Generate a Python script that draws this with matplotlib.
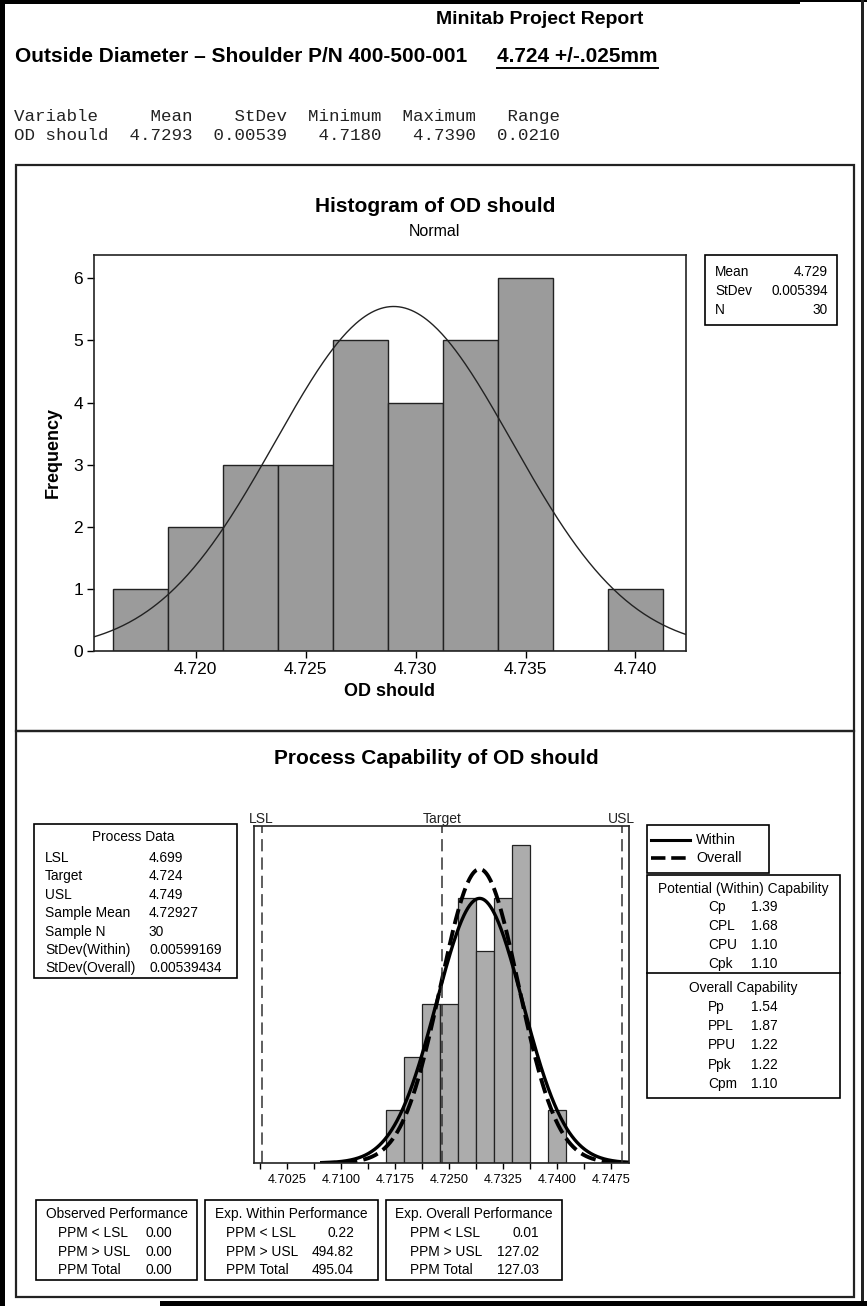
import numpy as np
import matplotlib
matplotlib.use("Agg")
import matplotlib.pyplot as plt
from matplotlib.patches import Rectangle
from matplotlib.lines import Line2D

# ---------------- data ----------------
bin_centers = [4.7175, 4.7200, 4.7225, 4.7250, 4.7275, 4.7300, 4.7325, 4.7350, 4.7375, 4.7400]
bin_counts = [1, 2, 3, 3, 5, 4, 5, 6, 0, 1]
bin_width = 0.0025

hist_mean = 4.729
hist_stdev = 0.005394
hist_n = 30

stat_names = ["Mean", "StDev", "Minimum", "Maximum", "Range"]
stat_values = ["4.7293", "0.00539", "4.7180", "4.7390", "0.0210"]

lsl, target, usl = 4.699, 4.724, 4.749
sample_mean = 4.72927
sample_n = 30
sd_within = 0.00599169
sd_overall = 0.00539434

hist_xticks = [4.720, 4.725, 4.730, 4.735, 4.740]
hist_yticks = [0, 1, 2, 3, 4, 5, 6]
cap_xticks = [4.7025, 4.7100, 4.7175, 4.7250, 4.7325, 4.7400, 4.7475]

process_labels = ["LSL", "Target", "USL", "Sample Mean", "Sample N", "StDev(Within)", "StDev(Overall)"]
process_values = ["4.699", "4.724", "4.749", "4.72927", "30", "0.00599169", "0.00539434"]

within_labels = ["Cp", "CPL", "CPU", "Cpk"]
within_values = ["1.39", "1.68", "1.10", "1.10"]
overall_labels = ["Pp", "PPL", "PPU", "Ppk", "Cpm"]
overall_values = ["1.54", "1.87", "1.22", "1.22", "1.10"]

ppm_labels = ["PPM < LSL", "PPM > USL", "PPM Total"]
ppm_observed = ["0.00", "0.00", "0.00"]
ppm_exp_within = ["0.22", "494.82", "495.04"]
ppm_exp_overall = ["0.01", "127.02", "127.03"]

# ---------------- figure ----------------
plt.rcParams['font.family'] = ['Liberation Sans', 'DejaVu Sans']
W, H = 867, 1306
fig = plt.figure(figsize=(W / 100, H / 100), dpi=100)
fig.patch.set_facecolor('white')

BOX_FS = 9.9


def fx(px):
    return px / W


def fy(py):
    return 1 - py / H


def ftext(x, y, s, **kw):
    kw.setdefault('va', 'center')
    return fig.text(fx(x), fy(y), s, **kw)


def frect(x0, y0, x1, y1, lw=1.0, color='black', fill=False, fc='none'):
    r = Rectangle((fx(x0), fy(y1)), (x1 - x0) / W, (y1 - y0) / H, transform=fig.transFigure,
                  fill=fill, facecolor=fc, edgecolor=color, linewidth=lw)
    fig.add_artist(r)


def fline(x0, y0, x1, y1, **kw):
    fig.add_artist(Line2D([fx(x0), fx(x1)], [fy(y0), fy(y1)], transform=fig.transFigure, **kw))


# page frame
frect(0, 0, 5, H, lw=0, fill=True, fc='black')
frect(0, 0, 800, 4, lw=0, fill=True, fc='black')
frect(0, 0, W, 2, lw=0, fill=True, fc='black')
frect(861, 0, 864, H, lw=0, fill=True, fc='#222222')
frect(160, 1301, W, H, lw=0, fill=True, fc='black')

# panels
frect(16, 165, 854, 731, lw=1.6, color='#222222')
frect(16, 731, 854, 1297, lw=1.6, color='#222222')

# header texts
ftext(540, 20, "Minitab Project Report", ha='center', fontsize=14, fontweight='bold')
ftext(15, 56, "Outside Diameter \u2013 Shoulder P/N 400-500-001", ha='left', fontsize=15, fontweight='bold')
t_spec = ftext(497, 56, "4.724 +/-.025mm", ha='left', fontsize=15, fontweight='bold')

hdr = "Variable" + "".join(n.rjust(w) for n, w in zip(stat_names, [9, 9, 9, 9, 8]))
row = "OD should" + "".join(v.rjust(w) for v, w in zip(stat_values, [8, 9, 9, 9, 8]))
ftext(14, 116, hdr, ha='left', family=['Liberation Mono', 'DejaVu Sans Mono'], fontsize=12.6, color='#222222')
ftext(14, 136, row, ha='left', family=['Liberation Mono', 'DejaVu Sans Mono'], fontsize=12.6, color='#222222')

# ---------------- histogram ----------------
ax = fig.add_axes([fx(94), fy(651), (686 - 94) / W, (651 - 255) / H])
ax.bar(bin_centers, bin_counts, width=bin_width, color='#9b9b9b', edgecolor='#222222', linewidth=1.0)
xs = np.linspace(4.7150, 4.7430, 400)
ys = hist_n * bin_width * np.exp(-0.5 * ((xs - hist_mean) / hist_stdev) ** 2) / (hist_stdev * np.sqrt(2 * np.pi))
ax.plot(xs, ys, color='#222222', linewidth=1.0)
ax.set_xlim(4.71537, 4.7423)
ax.set_ylim(0, 6.376)
ax.set_xticks(hist_xticks)
ax.set_xticklabels([f"{v:.3f}" for v in hist_xticks])
ax.set_yticks(hist_yticks)
ax.tick_params(direction='out', length=5, width=1, labelsize=12.5, pad=3)
for s in ax.spines.values():
    s.set_linewidth(1.2)
    s.set_color('#222222')
ax.set_xlabel("OD should", fontsize=13, fontweight='bold', labelpad=4)
ax.set_ylabel("Frequency", fontsize=13, fontweight='bold', labelpad=8)

ftext(435, 207, "Histogram of OD should", ha='center', fontsize=15, fontweight='bold')
ftext(434, 232, "Normal", ha='center', fontsize=11.5)

# histogram legend
frect(705, 255, 837, 325, lw=1.2)
for i, (lab, val) in enumerate(zip(["Mean", "StDev", "N"],
                                   [f"{hist_mean:.3f}", f"{hist_stdev:.6f}", f"{hist_n}"])):
    y = 272 + i * 19
    ftext(715, y, lab, ha='left', fontsize=9.8)
    ftext(828, y, val, ha='right', fontsize=9.8)

# ---------------- capability ----------------
ftext(436, 759, "Process Capability of OD should", ha='center', fontsize=15, fontweight='bold')

ax2 = fig.add_axes([fx(254.3), fy(1163), (629.3 - 254.3) / W, (1163 - 826) / H])
ax2.bar(bin_centers, bin_counts, width=bin_width, color='#acacac', edgecolor='#222222', linewidth=0.9)
ax2.set_xlim(4.69797, 4.75006)
ax2.set_ylim(0, 6.36)
xc = np.linspace(4.7071, 4.7501, 500)
yw = hist_n * bin_width * np.exp(-0.5 * ((xc - sample_mean) / sd_within) ** 2) / (sd_within * np.sqrt(2 * np.pi))
yo = hist_n * bin_width * np.exp(-0.5 * ((xc - sample_mean) / sd_overall) ** 2) / (sd_overall * np.sqrt(2 * np.pi))
ax2.plot(xc, yw, color='black', linewidth=2.4, solid_capstyle='butt')
ax2.plot(xc, yo, color='black', linewidth=2.8, linestyle=(0, (4, 1.6)))
for v in [lsl, target, usl]:
    ax2.axvline(v, color='#333333', linewidth=1.1, linestyle=(0, (8, 4)))
ax2.set_xticks(cap_xticks)
ax2.set_xticklabels([f"{v:.4f}" for v in cap_xticks])
ax2.set_xticks([v - 0.00375 for v in cap_xticks], minor=True)
ax2.set_yticks([])
ax2.tick_params(axis='x', which='both', direction='out', length=4, width=1, labelsize=9.2, pad=4)
for s in ax2.spines.values():
    s.set_linewidth(1.2)
    s.set_color('#222222')

trans = ax2.get_xaxis_transform()
for v, lab in zip([lsl, target, usl], ["LSL", "Target", "USL"]):
    ax2.text(v, 1.0, lab, transform=trans, ha='center', va='bottom', fontsize=10, color='#222222')

# Process Data box
frect(34, 824, 237, 978, lw=1.2)
ftext(133, 837, "Process Data", ha='center', fontsize=BOX_FS)
for i, (lab, val) in enumerate(zip(process_labels, process_values)):
    y = 858 + i * 18.4
    ftext(45, y, lab, ha='left', fontsize=BOX_FS)
    ftext(149, y, val, ha='left', fontsize=BOX_FS)

# legend box (Within / Overall)
frect(647, 825, 769, 873, lw=1.2)
fline(651, 840, 690, 840, color='black', linewidth=2.2)
fline(651, 858, 690, 858, color='black', linewidth=2.6, linestyle=(0, (4, 1.6)))
ftext(696, 840, "Within", ha='left', fontsize=10.3)
ftext(696, 858, "Overall", ha='left', fontsize=10.3)

# capability box
frect(647, 875, 840, 1098, lw=1.2)
fline(647, 973, 840, 973, color='black', linewidth=1.2)
ftext(743, 889, "Potential (Within) Capability", ha='center', fontsize=BOX_FS)
for i, (lab, val) in enumerate(zip(within_labels, within_values)):
    y = 907 + i * 19
    ftext(708, y, lab, ha='left', fontsize=BOX_FS)
    ftext(751, y, val, ha='left', fontsize=BOX_FS)
ftext(743, 988, "Overall Capability", ha='center', fontsize=BOX_FS)
for i, (lab, val) in enumerate(zip(overall_labels, overall_values)):
    y = 1007 + i * 19.2
    ftext(708, y, lab, ha='left', fontsize=BOX_FS)
    ftext(751, y, val, ha='left', fontsize=BOX_FS)

# performance boxes
boxes = [
    (36, 197, "Observed Performance", ppm_observed, 58, 172),
    (205, 378, "Exp. Within Performance", ppm_exp_within, 226, 354),
    (386, 562, "Exp. Overall Performance", ppm_exp_overall, 410, 539),
]
for x0, x1, title, vals, lx, vx in boxes:
    frect(x0, 1200, x1, 1280, lw=1.2)
    ftext((x0 + x1) / 2, 1214, title, ha='center', fontsize=BOX_FS)
    for i, (lab, val) in enumerate(zip(ppm_labels, vals)):
        y = 1233 + i * 18.5
        ftext(lx, y, lab, ha='left', fontsize=BOX_FS)
        ftext(vx, y, val, ha='right', fontsize=BOX_FS)

# underline the spec
fig.canvas.draw()
bb = t_spec.get_window_extent().transformed(fig.transFigure.inverted())
fig.add_artist(Line2D([bb.x0, bb.x1], [fy(68), fy(68)], transform=fig.transFigure, color='black', linewidth=1.4))

fig.savefig("out.png", dpi=100)
